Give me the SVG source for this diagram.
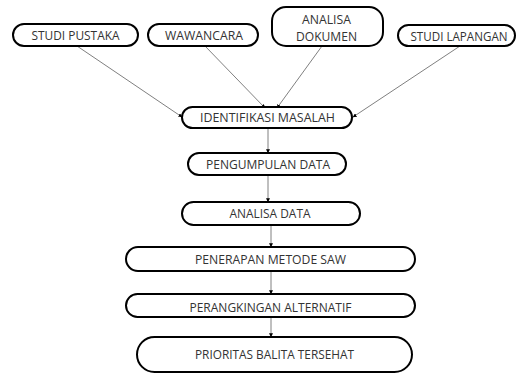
<svg xmlns="http://www.w3.org/2000/svg" width="517" height="374" viewBox="0 0 517 374">
<style>
.box{fill:#fff;stroke:#000;stroke-width:2}
.t{font-family:"Open Sans","Liberation Sans",sans-serif;font-size:12px;fill:#333;text-anchor:middle}
.c{stroke:#808080;stroke-width:1;fill:none;marker-end:url(#ah)}
</style>
<defs>
<marker id="ah" viewBox="0 0 6 6" refX="5.5" refY="3" markerWidth="4" markerHeight="4" orient="auto" markerUnits="userSpaceOnUse">
<path d="M0,0 L6,3 L0,6 z" fill="#000"/>
</marker>
</defs>
<rect width="517" height="374" fill="#fff"/>
<g id="connectors">
<line class="c" x1="77" y1="46" x2="182" y2="117"/>
<line class="c" x1="205" y1="46" x2="265" y2="108"/>
<line class="c" x1="322" y1="46" x2="277" y2="108"/>
<line class="c" x1="460" y1="46" x2="353" y2="117"/>
<line class="c" x1="268" y1="128" x2="268" y2="153"/>
<line class="c" x1="268" y1="175" x2="268" y2="202"/>
<line class="c" x1="271" y1="225" x2="271" y2="247"/>
<line class="c" x1="271" y1="271" x2="271" y2="294"/>
<line class="c" x1="271" y1="317" x2="271" y2="337"/>
</g>
<g id="studi-pustaka">
<rect class="box" x="13" y="24" width="125" height="22" rx="11"/>
<text class="t" x="75.5" y="39.5" textLength="88" lengthAdjust="spacingAndGlyphs">STUDI PUSTAKA</text>
</g>
<g id="wawancara">
<rect class="box" x="148" y="24" width="110" height="22" rx="11"/>
<text class="t" x="204" y="39.5" textLength="78" lengthAdjust="spacingAndGlyphs">WAWANCARA</text>
</g>
<g id="analisa-dokumen">
<rect class="box" x="272" y="7" width="111" height="39" rx="14"/>
<text class="t" x="326.5" y="24" textLength="49" lengthAdjust="spacingAndGlyphs">ANALISA</text>
<text class="t" x="326.5" y="41" textLength="61" lengthAdjust="spacingAndGlyphs">DOKUMEN</text>
</g>
<g id="studi-lapangan">
<rect class="box" x="398" y="25" width="117" height="21" rx="10.5"/>
<text class="t" x="459" y="40.5" textLength="97" lengthAdjust="spacingAndGlyphs">STUDI LAPANGAN</text>
</g>
<g id="identifikasi-masalah">
<rect class="box" x="182" y="107" width="170" height="21" rx="10.5"/>
<text class="t" x="267.5" y="122" textLength="135" lengthAdjust="spacingAndGlyphs">IDENTIFIKASI MASALAH</text>
</g>
<g id="pengumpulan-data">
<rect class="box" x="188" y="153" width="158" height="22" rx="11"/>
<text class="t" x="268" y="169" textLength="124" lengthAdjust="spacingAndGlyphs">PENGUMPULAN DATA</text>
</g>
<g id="analisa-data">
<rect class="box" x="182" y="202" width="178" height="23" rx="11.5"/>
<text class="t" x="270" y="217.5" textLength="81" lengthAdjust="spacingAndGlyphs">ANALISA DATA</text>
</g>
<g id="penerapan-metode-saw">
<rect class="box" x="126" y="247" width="289" height="24" rx="12"/>
<text class="t" x="270.5" y="264" textLength="151" lengthAdjust="spacingAndGlyphs">PENERAPAN METODE SAW</text>
</g>
<g id="perangkingan-alternatif">
<rect class="box" x="126" y="294" width="289" height="23" rx="11.5"/>
<text class="t" x="270.5" y="312" textLength="162" lengthAdjust="spacingAndGlyphs">PERANGKINGAN ALTERNATIF</text>
</g>
<g id="prioritas-balita-tersehat">
<rect class="box" x="137" y="337" width="275" height="35" rx="17.5"/>
<text class="t" x="274.5" y="359" textLength="159" lengthAdjust="spacingAndGlyphs">PRIORITAS BALITA TERSEHAT</text>
</g>
</svg>
